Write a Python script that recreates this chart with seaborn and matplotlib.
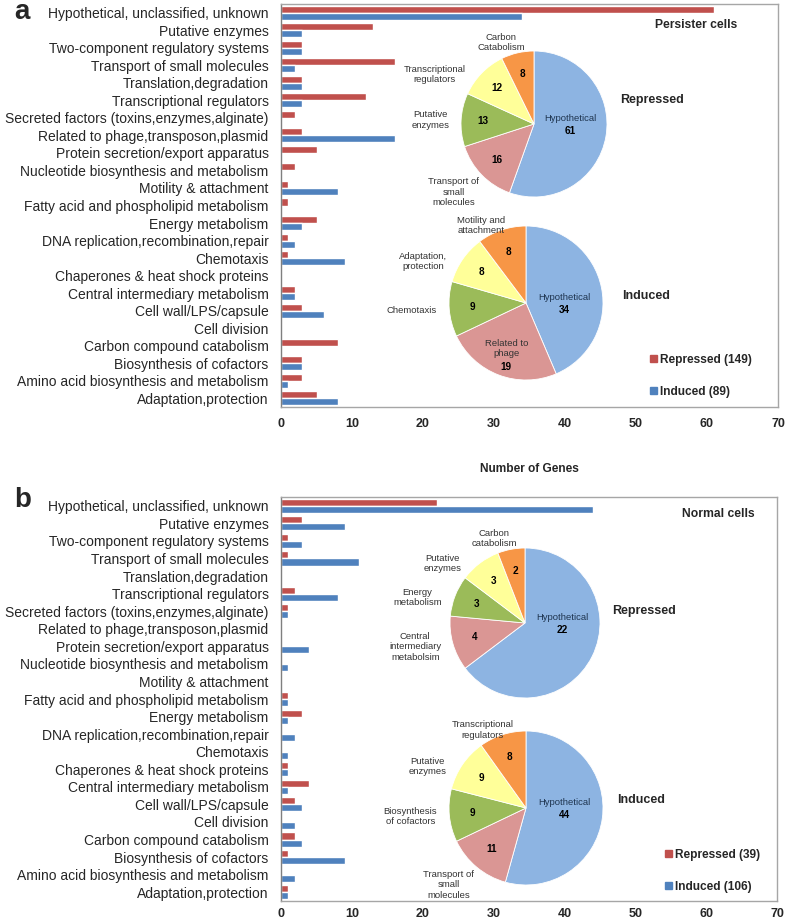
import numpy as np
import pandas as pd
import matplotlib
matplotlib.use("Agg")
import matplotlib.pyplot as plt
from matplotlib.patches import Patch
import seaborn as sns

# ── Data ──────────────────────────────────────────────────────────────────────
categories = [
    "Hypothetical, unclassified, unknown",
    "Putative enzymes",
    "Two-component regulatory systems",
    "Transport of small molecules",
    "Translation,degradation",
    "Transcriptional regulators",
    "Secreted factors (toxins,enzymes,alginate)",
    "Related to phage,transposon,plasmid",
    "Protein secretion/export apparatus",
    "Nucleotide biosynthesis and metabolism",
    "Motility & attachment",
    "Fatty acid and phospholipid metabolism",
    "Energy metabolism",
    "DNA replication,recombination,repair",
    "Chemotaxis",
    "Chaperones & heat shock proteins",
    "Central intermediary metabolism",
    "Cell wall/LPS/capsule",
    "Cell division",
    "Carbon compound catabolism",
    "Biosynthesis of cofactors",
    "Amino acid biosynthesis and metabolism",
    "Adaptation,protection",
]
persister_repressed = [61, 13, 3, 16, 3, 12, 2, 3, 5, 2, 1, 1, 5, 1, 1, 0, 2, 3, 0, 8, 3, 3, 5]
persister_induced   = [34, 3, 3, 2, 3, 3, 0, 16, 0, 0, 8, 0, 3, 2, 9, 0, 2, 6, 0, 0, 3, 1, 8]
normal_repressed    = [22, 3, 1, 1, 0, 2, 1, 0, 0, 0, 0, 1, 3, 0, 0, 1, 4, 2, 0, 2, 1, 0, 1]
normal_induced      = [44, 9, 3, 11, 0, 8, 1, 0, 4, 1, 0, 1, 1, 2, 1, 1, 1, 3, 2, 3, 9, 2, 1]

legend_a = ["Repressed (149)", "Induced (89)"]
legend_b = ["Repressed (39)", "Induced (106)"]

pie_a_rep_names  = ["Hypothetical", "Transport of\nsmall\nmolecules", "Putative\nenzymes",
                    "Transcriptional\nregulators", "Carbon\nCatabolism"]
pie_a_rep_values = [61, 16, 13, 12, 8]
pie_a_ind_names  = ["Hypothetical", "Related to\nphage", "Chemotaxis",
                    "Adaptation,\nprotection", "Motility and\nattachment"]
pie_a_ind_values = [34, 19, 9, 8, 8]
pie_b_rep_names  = ["Hypothetical", "Central\nintermediary\nmetabolsim", "Energy\nmetabolism",
                    "Putative\nenzymes", "Carbon\ncatabolism"]
pie_b_rep_values = [22, 4, 3, 3, 2]
pie_b_ind_names  = ["Hypothetical", "Transport of\nsmall\nmolecules", "Biosynthesis\nof cofactors",
                    "Putative\nenzymes", "Transcriptional\nregulators"]
pie_b_ind_values = [44, 11, 9, 9, 8]

# ── Style ─────────────────────────────────────────────────────────────────────
BAR_COLORS = {"Repressed": "#C0504D", "Induced": "#4F81BD"}
PIE_COLORS = ["#8DB4E2", "#DA9694", "#9BBB59", "#FFFF99", "#F79646"]
sns.set_theme(style="white")
plt.rcParams["font.family"] = ["Liberation Sans", "DejaVu Sans"]

W, H = 787, 923
fig = plt.figure(figsize=(W / 100, H / 100), dpi=100)


def px_rect(left, top, right, bottom):
    return [left / W, 1 - bottom / H, (right - left) / W, (bottom - top) / H]


def bar_panel(rect, repressed, induced, xlabel, xpad):
    ax = fig.add_axes(rect)
    df = pd.DataFrame({
        "category": categories * 2,
        "genes": repressed + induced,
        "group": ["Repressed"] * len(categories) + ["Induced"] * len(categories),
    })
    sns.barplot(data=df, y="category", x="genes", hue="group",
                hue_order=["Repressed", "Induced"], palette=BAR_COLORS,
                orient="h", width=0.8, saturation=1, legend=False, ax=ax)
    ax.set_xlim(0, 70)
    ax.set_xticks(range(0, 71, 10))
    ax.set_ylabel("")
    ax.set_xlabel(xlabel, fontsize=8.6, fontweight="bold", labelpad=24)
    ax.tick_params(axis="both", length=0)
    ax.tick_params(axis="y", labelsize=10, pad=9)
    ax.tick_params(axis="x", labelsize=9, pad=xpad)
    for t in ax.get_xticklabels():
        t.set_fontweight("bold")
    for sp in ax.spines.values():
        sp.set_color("#A6A6A6")
        sp.set_linewidth(1.0)
    ax.spines["left"].set_color("#7F7F7F")
    return ax


def draw_pie(cx, cy, r, names, values, inside=()):
    ax = fig.add_axes(px_rect(cx - r, cy - r, cx + r, cy + r))
    wedges, _ = ax.pie(values, colors=PIE_COLORS, startangle=90, counterclock=False,
                       radius=1, wedgeprops=dict(edgecolor="white", linewidth=0.6))
    ax.set_xlim(-1, 1)
    ax.set_ylim(-1, 1)
    ax.set_aspect("equal")
    ax.axis("off")
    for i, (w, name, val) in enumerate(zip(wedges, names, values)):
        mid = (w.theta1 + w.theta2) / 2
        ang = np.deg2rad(mid)
        c, s = np.cos(ang), np.sin(ang)
        if i == 0:
            ax.text(0.5, 0.07, name, ha="center", va="center", fontsize=6.8, color="#1F3550")
            ax.text(0.5, -0.09, str(val), ha="center", va="center", fontsize=7.2,
                    fontweight="bold", color="black")
        elif name in inside:
            ax.text(0.72 * c, 0.72 * s + 0.08, name, ha="center", va="center",
                    fontsize=6.8, color="#333333", multialignment="center")
            ax.text(0.72 * c, 0.72 * s - 0.16, str(val), ha="center", va="center",
                    fontsize=7.2, fontweight="bold", color="black")
        else:
            ax.text(0.7 * c, 0.7 * s, str(val), ha="center", va="center",
                    fontsize=7.2, fontweight="bold", color="black")
            # outer labels sit a little further round on the upper side
            la = np.deg2rad(mid + 12 * max(s, 0))
            lc, ls = np.cos(la), np.sin(la)
            ha = "right" if lc < -0.6 else ("left" if lc > 0.6 else "center")
            if ls < -0.6:
                va, rr = "top", 1.05
            elif ls > 0.9:
                va, rr = "bottom", 1.08
            else:
                va, rr = "center", 1.16
            ax.text(rr * lc, rr * ls, name, ha=ha, va=va, fontsize=6.8,
                    color="#333333", multialignment="center")
    return ax


def side_text(x, y, text, size=9, ha="left"):
    fig.text(x / W, 1 - y / H, text, ha=ha, va="center", fontsize=size, fontweight="bold")


def side_legend(x, y, labels):
    handles = [Patch(color=BAR_COLORS["Repressed"]), Patch(color=BAR_COLORS["Induced"])]
    fig.legend(handles, labels, loc="upper left", bbox_to_anchor=(x / W, 1 - y / H),
               frameon=False, handlelength=0.55, handleheight=0.55, handletextpad=0.25,
               labelspacing=1.65, borderpad=0, borderaxespad=0,
               prop={"size": 8.6, "weight": "bold"})


# ── Panel a : persister cells ─────────────────────────────────────────────────
bar_panel(px_rect(281, 4, 778, 407), persister_repressed, persister_induced,
          "Number of Genes", xpad=8)
draw_pie(534, 124, 73, pie_a_rep_names, pie_a_rep_values)
draw_pie(526, 303, 77, pie_a_ind_names, pie_a_ind_values, inside=("Related to\nphage",))
side_text(696, 25, "Persister cells", 8.7, ha="center")
side_text(620, 100, "Repressed")
side_text(622, 296, "Induced")
side_legend(650, 354, legend_a)
fig.text(14 / W, 1 - 12 / H, "a", fontsize=20, fontweight="bold", va="center")

# ── Panel b : normal cells ────────────────────────────────────────────────────
bar_panel(px_rect(281, 497, 777, 901), normal_repressed, normal_induced, "", xpad=5)
draw_pie(525, 623, 75, pie_b_rep_names, pie_b_rep_values)
draw_pie(526, 808, 77, pie_b_ind_names, pie_b_ind_values)
side_text(718, 514, "Normal cells", 8.7, ha="center")
side_text(612, 611, "Repressed")
side_text(617, 800, "Induced")
side_legend(665, 849, legend_b)
fig.text(14 / W, 1 - 500 / H, "b", fontsize=20, fontweight="bold", va="center")

fig.savefig("out.png", dpi=100)
